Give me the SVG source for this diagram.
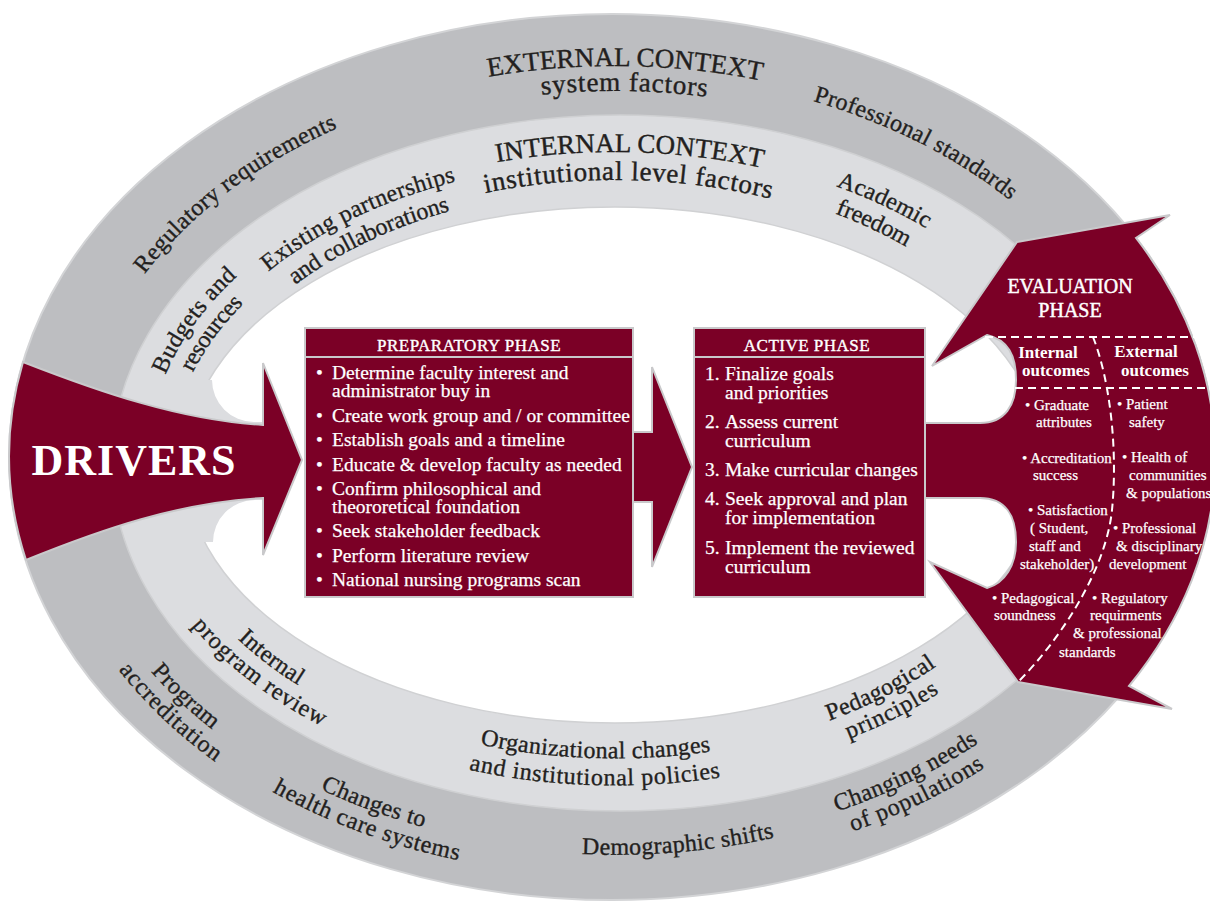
<svg xmlns="http://www.w3.org/2000/svg" width="1210" height="905" viewBox="0 0 1210 905">
<defs>
<style>
.outer{fill:#bdbec1;stroke:#d3d4d6;stroke-width:2}
.mid{fill:#dcdde0;stroke:#cfd0d2;stroke-width:1.5}
.inner{fill:#ffffff;stroke:#d0d1d3;stroke-width:1.5}
.collar{fill:#dcdde0}
.red{fill:#7b0026;stroke:#c9c9cb;stroke-width:2}
.sep{stroke:#c9c9cb;stroke-width:2}
.lbl{font-family:"Liberation Serif","Times New Roman",serif;font-size:24px;fill:#231f20;stroke:#231f20;stroke-width:0.35px;letter-spacing:0.3px}
.ttl{font-family:"Liberation Serif","Times New Roman",serif;font-size:27px;fill:#231f20;stroke:#231f20;stroke-width:0.4px}
.ttl2{letter-spacing:1.2px}
.wt{font-family:"Liberation Serif","Times New Roman",serif;fill:#ffffff;stroke:#ffffff;stroke-width:0.25px}
.item{font-size:19.5px}
.hdr{font-size:17px;letter-spacing:0.5px;stroke-width:0.4px}
.ev{font-size:15px}
.evh{font-size:17px;font-weight:bold;stroke-width:0}
.evt{font-size:20px;stroke-width:0.45px}
.drv{font-size:44px;font-weight:bold;letter-spacing:1px;stroke-width:0}
.dash{fill:none;stroke:#ffffff;stroke-width:2;stroke-dasharray:8 5}
</style>
<path id="tp-ext" d="M 438.9 87.2 A 543.7 394 0 0 1 810.7 92.4"/>
<path id="tp-int" d="M 441.2 174.6 A 462 308 0 0 1 816.8 182.9"/>
<path id="tp-reg" d="M 123.0 306.7 A 535.6 388.1 0 0 1 374.1 113.4"/>
<path id="tp-prof" d="M 772.3 90.7 A 533.3 386.5 0 0 1 1041.8 228.2"/>
<path id="tp-exist" d="M 238.4 299.4 A 447 298 0 0 1 496.3 172.7"/>
<path id="tp-acad" d="M 785.9 170.7 A 466.4 310.9 0 0 1 969.7 258.1"/>
<path id="tp-budg" d="M 154.0 408.6 A 467.4 311.6 0 0 1 264.9 253.5"/>
<path id="tp-intrev" d="M 193.2 587.6 A 463.2 308.8 0 0 0 358.7 717.2"/>
<path id="tp-org" d="M 443.0 735.5 A 447.6 298.4 0 0 0 748.8 744.7"/>
<path id="tp-ped" d="M 794.6 732.0 A 445.9 297.2 0 0 0 965.2 644.0"/>
<path id="tp-prog" d="M 110.3 615.2 A 548.3 397.3 0 0 0 270.0 768.7"/>
<path id="tp-chg" d="M 244.2 746.1 A 541.7 392.5 0 0 0 509.8 845.0"/>
<path id="tp-demo" d="M 528.4 849.8 A 544.8 394.8 0 0 0 826.5 823.8"/>
<path id="tp-need" d="M 789.5 825.2 A 533.4 386.5 0 0 0 1018.2 713.0"/>
</defs>
<rect x="0" y="0" width="1210" height="905" fill="#ffffff"/>

<g id="external-context">
<ellipse class="outer" cx="612" cy="457" rx="603" ry="443"/>
<text class="ttl"><textPath href="#tp-ext" startOffset="50%" text-anchor="middle">EXTERNAL CONTEXT</textPath></text>
<text class="ttl ttl2" dy="25"><textPath href="#tp-ext" startOffset="50%" text-anchor="middle">system factors</textPath></text>
<text class="lbl"><textPath href="#tp-reg" startOffset="50%" text-anchor="middle">Regulatory requirements</textPath></text>
<text class="lbl"><textPath href="#tp-prof" startOffset="50%" text-anchor="middle">Professional standards</textPath></text>
<text class="lbl"><textPath href="#tp-prog" startOffset="50%" text-anchor="middle">Program</textPath></text>
<text class="lbl" dy="24"><textPath href="#tp-prog" startOffset="50%" text-anchor="middle">accreditation</textPath></text>
<text class="lbl"><textPath href="#tp-chg" startOffset="50%" text-anchor="middle">Changes to</textPath></text>
<text class="lbl" dy="24"><textPath href="#tp-chg" startOffset="50%" text-anchor="middle">health care systems</textPath></text>
<text class="lbl"><textPath href="#tp-demo" startOffset="50%" text-anchor="middle">Demographic shifts</textPath></text>
<text class="lbl"><textPath href="#tp-need" startOffset="50%" text-anchor="middle">Changing needs</textPath></text>
<text class="lbl" dy="24"><textPath href="#tp-need" startOffset="50%" text-anchor="middle">of populations</textPath></text>
</g>

<g id="internal-context">
<ellipse class="mid" cx="620" cy="463" rx="508" ry="348"/>
<ellipse class="inner" cx="615" cy="465" rx="430" ry="258"/>
<path class="collar" d="M 170 380 L 212 380 A 42 42 0 0 0 254 422 L 285 422 L 285 500 L 255 500 A 42 42 0 0 0 213 542 L 170 542 Z"/>
<text class="ttl"><textPath href="#tp-int" startOffset="50%" text-anchor="middle">INTERNAL CONTEXT</textPath></text>
<text class="ttl ttl2" dy="28"><textPath href="#tp-int" startOffset="50%" text-anchor="middle">institutional level factors</textPath></text>
<text class="lbl"><textPath href="#tp-exist" startOffset="50%" text-anchor="middle">Existing partnerships</textPath></text>
<text class="lbl" dy="27"><textPath href="#tp-exist" startOffset="50%" text-anchor="middle">and collaborations</textPath></text>
<text class="lbl"><textPath href="#tp-acad" startOffset="50%" text-anchor="middle">Academic</textPath></text>
<text class="lbl" dy="26"><textPath href="#tp-acad" startOffset="50%" text-anchor="middle">freedom</textPath></text>
<text class="lbl"><textPath href="#tp-budg" startOffset="50%" text-anchor="middle">Budgets and</textPath></text>
<text class="lbl" dy="24"><textPath href="#tp-budg" startOffset="50%" text-anchor="middle">resources</textPath></text>
<text class="lbl"><textPath href="#tp-intrev" startOffset="50%" text-anchor="middle">Internal</textPath></text>
<text class="lbl" dy="24"><textPath href="#tp-intrev" startOffset="50%" text-anchor="middle">program review</textPath></text>
<text class="lbl"><textPath href="#tp-org" startOffset="50%" text-anchor="middle">Organizational changes</textPath></text>
<text class="lbl" dy="27"><textPath href="#tp-org" startOffset="50%" text-anchor="middle">and institutional policies</textPath></text>
<text class="lbl"><textPath href="#tp-ped" startOffset="50%" text-anchor="middle">Pedagogical</textPath></text>
<text class="lbl" dy="24"><textPath href="#tp-ped" startOffset="50%" text-anchor="middle">principles</textPath></text>
</g>

<g id="evaluation-phase">
<path class="red" d="M 1017 242 L 1170 215 L 1136 238 A 603 443 0 0 1 1129 686 L 1172 709 L 1018 682 L 930 562 L 987 588 C 1005 583 1016 565 1016 542 C 1016 515 1005 498 980 498 L 925 498 L 925 423 L 980 423 C 1005 423 1016 405 1016 380 C 1016 355 1008 340 987 335 L 932 366 Z"/>
<line class="dash" x1="985" y1="337" x2="1210" y2="337"/>
<line class="dash" x1="1015" y1="388" x2="1210" y2="388"/>
<path class="dash" d="M 1093 337 C 1110 380 1118 450 1112 510 C 1106 570 1060 640 1018 682"/>
<text class="wt evt" x="1070" y="293" text-anchor="middle">EVALUATION</text>
<text class="wt evt" x="1070" y="317" text-anchor="middle">PHASE</text>
<text class="wt evh" x="1048" y="358" text-anchor="middle">Internal</text>
<text class="wt evh" x="1056" y="376" text-anchor="middle">outcomes</text>
<text class="wt evh" x="1146" y="357" text-anchor="middle">External</text>
<text class="wt evh" x="1155" y="376" text-anchor="middle">outcomes</text>
<text class="wt ev" x="1025" y="410">• Graduate</text>
<text class="wt ev" x="1036" y="427">attributes</text>
<text class="wt ev" x="1022" y="463">• Accreditation</text>
<text class="wt ev" x="1033" y="480">success</text>
<text class="wt ev" x="1028" y="515">• Satisfaction</text>
<text class="wt ev" x="1030" y="533">( Student,</text>
<text class="wt ev" x="1029" y="551">staff and</text>
<text class="wt ev" x="1020" y="569">stakeholder)</text>
<text class="wt ev" x="992" y="603">• Pedagogical</text>
<text class="wt ev" x="994" y="620">soundness</text>
<text class="wt ev" x="1117" y="409">• Patient</text>
<text class="wt ev" x="1129" y="427">safety</text>
<text class="wt ev" x="1122" y="462">• Health of</text>
<text class="wt ev" x="1129" y="480">communities</text>
<text class="wt ev" x="1126" y="498">&amp; populations</text>
<text class="wt ev" x="1113" y="533">• Professional</text>
<text class="wt ev" x="1116" y="551">&amp; disciplinary</text>
<text class="wt ev" x="1109" y="569">development</text>
<text class="wt ev" x="1092" y="603">• Regulatory</text>
<text class="wt ev" x="1090" y="620">requirments</text>
<text class="wt ev" x="1073" y="638">&amp; professional</text>
<text class="wt ev" x="1059" y="657">standards</text>
</g>

<g id="drivers">
<path class="red" d="M 23 362 C 100 392 180 420 263 425 L 263 363 L 302 460 L 263 555 L 263 498 C 180 502 100 530 26 560 A 603 443 0 0 1 23 362 Z"/>
<text class="wt drv" x="134" y="475" text-anchor="middle">DRIVERS</text>
</g>

<g id="connectors">
<path class="red" d="M 633 432 L 652 432 L 652 367 L 692 467 L 652 567 L 652 502 L 633 502 Z"/>
</g>

<g id="preparatory-phase">
<rect class="red" x="305" y="328" width="328" height="269"/>
<line class="sep" x1="305" y1="357" x2="633" y2="357"/>
<text class="wt hdr" x="469" y="351" text-anchor="middle">PREPARATORY PHASE</text>
<g class="wt item">
<text x="316" y="379">•</text><text x="332" y="379">Determine faculty interest and</text>
<text x="332" y="397">administrator buy in</text>
<text x="316" y="422">•</text><text x="332" y="422">Create work group and / or committee</text>
<text x="316" y="446">•</text><text x="332" y="446">Establish goals and a timeline</text>
<text x="316" y="471">•</text><text x="332" y="471">Educate &amp; develop faculty as needed</text>
<text x="316" y="495">•</text><text x="332" y="495">Confirm philosophical and</text>
<text x="332" y="513">theororetical foundation</text>
<text x="316" y="537">•</text><text x="332" y="537">Seek stakeholder feedback</text>
<text x="316" y="562">•</text><text x="332" y="562">Perform literature review</text>
<text x="316" y="586">•</text><text x="332" y="586">National nursing programs scan</text>
</g>
</g>

<g id="active-phase">
<rect class="red" x="694" y="328" width="231" height="269"/>
<line class="sep" x1="694" y1="357" x2="925" y2="357"/>
<text class="wt hdr" x="807" y="351" text-anchor="middle">ACTIVE PHASE</text>
<g class="wt item">
<text x="705" y="380">1.</text><text x="725" y="380">Finalize goals</text>
<text x="725" y="399">and priorities</text>
<text x="705" y="428">2.</text><text x="725" y="428">Assess current</text>
<text x="725" y="447">curriculum</text>
<text x="705" y="476">3.</text><text x="725" y="476">Make curricular changes</text>
<text x="705" y="505">4.</text><text x="725" y="505">Seek approval and plan</text>
<text x="725" y="524">for implementation</text>
<text x="705" y="554">5.</text><text x="725" y="554">Implement the reviewed</text>
<text x="725" y="573">curriculum</text>
</g>
</g>
</svg>
